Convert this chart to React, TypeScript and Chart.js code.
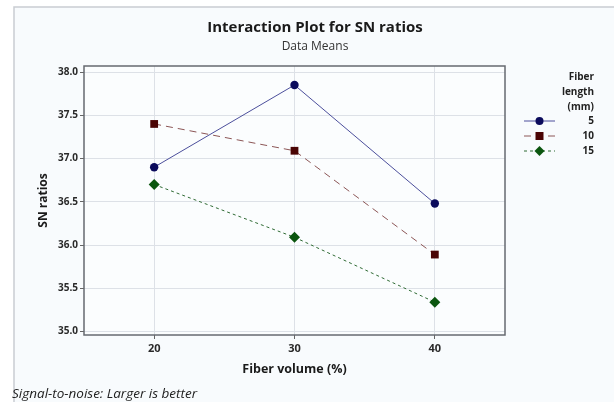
import React, { useEffect, useRef } from "react";
import { Chart, registerables } from "chart.js";

Chart.register(...registerables);

const FIBER_VOLUME = [20, 30, 40];
const LENGTH_5 = [36.9, 37.85, 36.48];
const LENGTH_10 = [37.4, 37.09, 35.89];
const LENGTH_15 = [36.7, 36.09, 35.34];
const SERIES_LABELS = ["5", "10", "15"];
const Y_TICKS = [35.0, 35.5, 36.0, 36.5, 37.0, 37.5, 38.0];
const X_TICKS = [20, 30, 40];

const TITLE = "Interaction Plot for SN ratios";
const SUBTITLE = "Data Means";
const X_TITLE = "Fiber volume (%)";
const Y_TITLE = "SN ratios";
const LEGEND_TITLE = ["Fiber", "length", "(mm)"];
const FOOTER = "Signal-to-noise: Larger is better";

const FONT = "'Open Sans', 'Noto Sans', sans-serif";

const toPoints = (ys: number[]) => FIBER_VOLUME.map((x, i) => ({ x, y: ys[i] }));

const decorPlugin = {
  id: "decor",
  beforeDraw(chart: any) {
    const { ctx, width, height, chartArea } = chart;
    ctx.save();
    ctx.fillStyle = "#ffffff";
    ctx.fillRect(0, 0, width, height);
    ctx.fillStyle = "#f8fbfd";
    ctx.fillRect(14, 7, width - 14, height - 7);
    ctx.strokeStyle = "#c9cdd2";
    ctx.lineWidth = 1.5;
    ctx.beginPath();
    ctx.moveTo(14, height);
    ctx.lineTo(14, 7);
    ctx.lineTo(width, 7);
    ctx.stroke();
    ctx.fillStyle = "#fbfdfe";
    ctx.fillRect(chartArea.left, chartArea.top, chartArea.right - chartArea.left, chartArea.bottom - chartArea.top);
    ctx.restore();
  },
  beforeDatasetsDraw(chart: any) {
    const { ctx, chartArea } = chart;
    ctx.save();
    ctx.strokeStyle = "#666a70";
    ctx.lineWidth = 1.5;
    ctx.strokeRect(chartArea.left, chartArea.top, chartArea.right - chartArea.left, chartArea.bottom - chartArea.top);
    ctx.restore();
  },
  afterDraw(chart: any) {
    const { ctx, chartArea } = chart;
    const cx = (chartArea.left + chartArea.right) / 2;
    const cy = (chartArea.top + chartArea.bottom) / 2;
    ctx.save();
    ctx.fillStyle = "#1a1a1a";
    ctx.textBaseline = "middle";
    ctx.textAlign = "center";
    ctx.font = `bold 15px ${FONT}`;
    ctx.fillText(TITLE, 315, 28);
    ctx.fillStyle = "#333";
    ctx.font = `12px ${FONT}`;
    ctx.fillText(SUBTITLE, 315, 47);
    ctx.fillStyle = "#1a1a1a";
    ctx.font = `bold 12.5px ${FONT}`;
    ctx.fillText(X_TITLE, cx, 369);
    ctx.save();
    ctx.translate(44, cy);
    ctx.rotate(-Math.PI / 2);
    ctx.font = `bold 12px ${FONT}`;
    ctx.fillText(Y_TITLE, 0, 0);
    ctx.restore();
    ctx.textAlign = "left";
    ctx.font = `italic 13.5px ${FONT}`;
    ctx.fillStyle = "#222";
    ctx.fillText(FOOTER, 12, 394);

    // legend
    ctx.textAlign = "right";
    ctx.font = `bold 10px ${FONT}`;
    ctx.fillStyle = "#222";
    LEGEND_TITLE.forEach((t, i) => ctx.fillText(t, 594, 77 + i * 15));
    chart.data.datasets.forEach((ds: any, i: number) => {
      const y = 121 + i * 15;
      ctx.save();
      ctx.strokeStyle = ds.borderColor;
      ctx.lineWidth = 1;
      ctx.setLineDash(ds.borderDash || []);
      ctx.beginPath();
      ctx.moveTo(524, y);
      ctx.lineTo(555, y);
      ctx.stroke();
      ctx.restore();
      ctx.fillStyle = ds.pointBackgroundColor;
      const s = ds.pointStyle;
      ctx.beginPath();
      if (s === "circle") {
        ctx.arc(539.5, y, 4, 0, Math.PI * 2);
      } else if (s === "rect") {
        ctx.rect(535.5, y - 4, 8, 8);
      } else {
        ctx.moveTo(539.5, y - 5);
        ctx.lineTo(544.5, y);
        ctx.lineTo(539.5, y + 5);
        ctx.lineTo(534.5, y);
        ctx.closePath();
      }
      ctx.fill();
      ctx.fillStyle = "#222";
      ctx.fillText(ds.label, 594, y);
    });
    ctx.restore();
  },
};

export default function App() {
  const ref = useRef<HTMLCanvasElement | null>(null);
  useEffect(() => {
    if (!ref.current) return;
    const chart = new Chart(ref.current, {
      type: "line",
      data: {
        datasets: [
          {
            label: SERIES_LABELS[0],
            data: toPoints(LENGTH_5),
            borderColor: "#4c4f9c",
            borderWidth: 1,
            pointStyle: "circle",
            pointRadius: 4.2,
            pointBackgroundColor: "#0b0b5c",
            pointBorderColor: "#0b0b5c",
            pointBorderWidth: 0,
          },
          {
            label: SERIES_LABELS[1],
            data: toPoints(LENGTH_10),
            borderColor: "#8c5656",
            borderWidth: 1,
            borderDash: [7, 5],
            pointStyle: "rect",
            pointRadius: 5.5,
            pointBackgroundColor: "#4a0404",
            pointBorderColor: "#4a0404",
            pointBorderWidth: 0,
          },
          {
            label: SERIES_LABELS[2],
            data: toPoints(LENGTH_15),
            borderColor: "#2f6b34",
            borderWidth: 1,
            borderDash: [3, 3],
            pointStyle: "rectRot",
            pointRadius: 5.5,
            pointBackgroundColor: "#0b560f",
            pointBorderColor: "#0b560f",
            pointBorderWidth: 0,
          },
        ],
      },
      options: {
        animation: false,
        responsive: false,
        devicePixelRatio: 1,
        layout: { padding: { left: 0, top: 66, right: 109, bottom: 0 } },
        plugins: { legend: { display: false }, title: { display: false }, tooltip: { enabled: false } },
        scales: {
          x: {
            type: "linear",
            min: 15,
            max: 45,
            afterBuildTicks: (s: any) => {
              s.ticks = X_TICKS.map((v) => ({ value: v }));
            },
            afterFit: (s: any) => {
              s.height = 67;
            },
            grid: { color: "#dde1e7", lineWidth: 1, tickLength: 4, tickColor: "#666" },
            border: { display: false },
            ticks: {
              padding: 3,
              color: "#2a2a2a",
              font: { family: FONT, size: 11, weight: "bold" },
              maxRotation: 0,
            },
          },
          y: {
            type: "linear",
            min: 34.96,
            max: 38.07,
            afterBuildTicks: (s: any) => {
              s.ticks = Y_TICKS.map((v) => ({ value: v }));
            },
            afterFit: (s: any) => {
              s.width = 84;
            },
            grid: { color: "#dde1e7", lineWidth: 1, tickLength: 4, tickColor: "#666" },
            border: { display: false },
            ticks: {
              padding: 2,
              color: "#2a2a2a",
              font: { family: FONT, size: 10, weight: "bold" },
              callback: (v: any) => Number(v).toFixed(1),
            },
          },
        },
      },
      plugins: [decorPlugin],
    });
    return () => chart.destroy();
  }, []);
  return (
    <div style={{ position: "absolute", left: 0, top: 0, width: 614, height: 402 }}>
      <canvas ref={ref} width={614} height={402} style={{ width: 614, height: 402, display: "block" }} />
    </div>
  );
}
